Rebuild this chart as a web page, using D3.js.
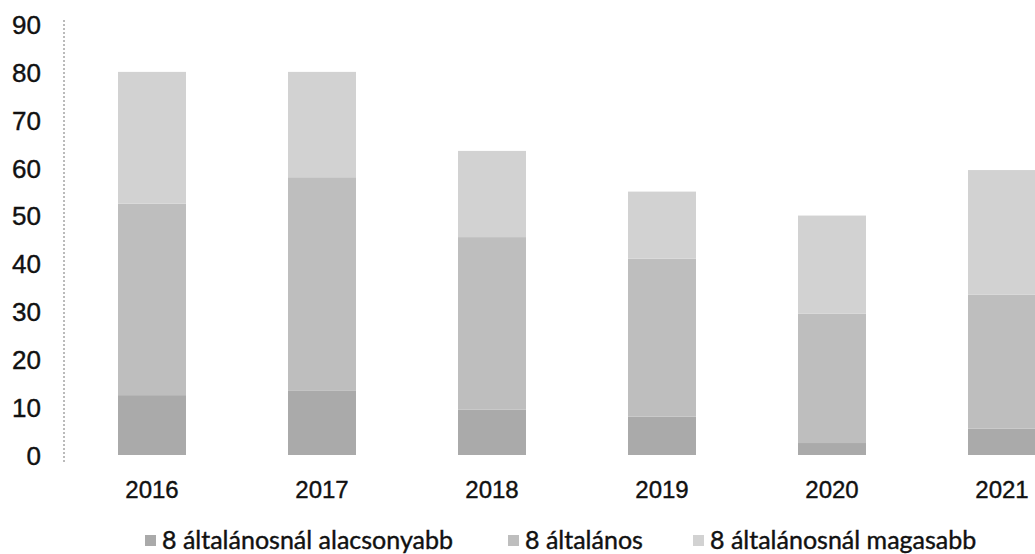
<!DOCTYPE html>
<html>
<head>
<meta charset="utf-8">
<script src="https://cdn.jsdelivr.net/npm/d3@7/dist/d3.min.js"></script>
<style>
  html, body { margin: 0; padding: 0; background: #fff; }
  svg { display: block; font-family: Lato, "Open Sans", sans-serif; }
</style>
</head>
<body>
<svg id="chart" width="1035" height="554"></svg>
<script>
const years = ["2016", "2017", "2018", "2019", "2020", "2021"];
const seriesNames = ["8 általánosnál alacsonyabb", "8 általános", "8 általánosnál magasabb"];
const lower = [12.5, 13.5, 9.5, 8, 2.5, 5.5];
const primary = [40, 44.5, 36, 33, 27, 28];
const higher = [27.5, 22, 18, 14, 20.5, 26];
const yTicks = [0, 10, 20, 30, 40, 50, 60, 70, 80, 90];
const colors = ["#aaaaaa", "#bebebe", "#d2d2d2"];

const svg = d3.select("#chart");
const rows = years.map((y, i) => ({ year: y, s0: lower[i], s1: primary[i], s2: higher[i] }));
const stacked = d3.stack().keys(["s0", "s1", "s2"])(rows);

const x = d3.scaleBand().domain(years).range([67, 1087]).paddingInner(0.6).paddingOuter(0.3);
const y = d3.scaleLinear().domain([0, 90]).range([455, 24]);

// y axis
const gy = svg.append("g").attr("transform", "translate(64,0)")
  .call(d3.axisLeft(y).tickValues(yTicks).tickSize(0));
gy.select(".domain").remove();
gy.selectAll("text").attr("font-size", 26)
  .attr("fill", "#111").attr("dy", "0.36em").attr("x", -23)
  .attr("stroke", "#111").attr("stroke-width", 0.4);
svg.append("line")
  .attr("x1", 64).attr("x2", 64).attr("y1", y(90) - 4).attr("y2", y(0) + 8)
  .attr("stroke", "#777").attr("stroke-width", 1).attr("stroke-dasharray", "2,2");

// bars
svg.append("g").selectAll("g").data(stacked).join("g")
  .attr("fill", (d, i) => colors[i])
  .selectAll("rect").data(d => d).join("rect")
  .attr("x", d => x(d.data.year))
  .attr("width", x.bandwidth())
  .attr("y", d => y(d[1]))
  .attr("height", d => y(d[0]) - y(d[1]));

// x axis
const gx = svg.append("g").attr("transform", "translate(0,489)")
  .call(d3.axisBottom(x).tickSize(0).tickPadding(0));
gx.select(".domain").remove();
gx.selectAll("text").attr("font-size", 24)
  .attr("fill", "#111").attr("dy", "0.36em").attr("y", 0)
  .attr("stroke", "#111").attr("stroke-width", 0.4);

// legend
const legendX = [145, 508, 693];
const lg = svg.append("g").selectAll("g").data(seriesNames).join("g")
  .attr("transform", (d, i) => `translate(${legendX[i]},540)`);
lg.append("rect").attr("x", 0).attr("y", -5).attr("width", 11).attr("height", 11)
  .attr("fill", (d, i) => colors[i]);
lg.append("text").attr("x", 17).attr("dy", "0.36em").attr("font-size", 25)
  .attr("fill", "#111").attr("stroke", "#111").attr("stroke-width", 0.4)
  .text(d => d);
</script>
</body>
</html>
